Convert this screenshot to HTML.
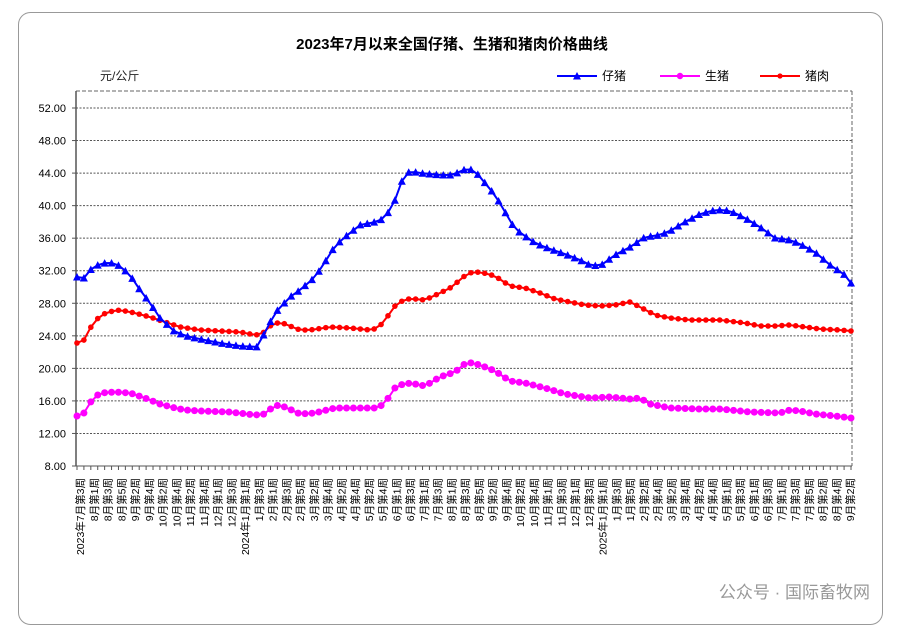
<!DOCTYPE html>
<html><head><meta charset="utf-8"><style>
body{margin:0;background:#fff;width:900px;height:627px;overflow:hidden;font-family:"Liberation Sans","Noto Sans CJK SC",sans-serif}
</style></head><body>
<svg id="s" width="900" height="627" xmlns="http://www.w3.org/2000/svg" font-family="Liberation Sans, Noto Sans CJK SC, sans-serif">
<rect x="18.5" y="12.5" width="864" height="612" rx="12" fill="#fff" stroke="#999" stroke-width="1"/>
<text x="452" y="49" text-anchor="middle" font-size="15" font-weight="bold" fill="#000">2023年7月以来全国仔猪、生猪和猪肉价格曲线</text>
<text x="100" y="80" font-size="12" fill="#222">元/公斤</text>
<g id="leg"></g>
<g id="grid"></g>
<g id="ser"></g>
<g id="xl"></g>
<text x="870" y="598" text-anchor="end" font-size="17" fill="#999">公众号 · 国际畜牧网</text>
</svg>
<script>
var NS="http://www.w3.org/2000/svg",s=document.getElementById('s');
function el(p,t,a,txt){var e=document.createElementNS(NS,t);for(var k in a)e.setAttribute(k,a[k]);if(txt)e.textContent=txt;document.getElementById(p).appendChild(e);return e;}
var L=76,R=852,T=91,B=466;
function Y(v){return 466-(v-8)*358/44;}
for(var v=12;v<=52;v+=4){el('grid','line',{x1:L,x2:R,y1:Y(v),y2:Y(v),stroke:'#555','stroke-dasharray':'2,1.5','stroke-width':1});}
for(var v=8;v<=52;v+=4){el('grid','text',{x:66,y:Y(v)+4,'text-anchor':'end','font-size':11,fill:'#000'},v.toFixed(2));el('grid','line',{x1:L-4,x2:L,y1:Y(v),y2:Y(v),stroke:'#555'});}
el('grid','line',{x1:L,x2:R,y1:T,y2:T,stroke:'#666','stroke-dasharray':'4,2'});
el('grid','line',{x1:R,x2:R,y1:T,y2:B,stroke:'#666','stroke-dasharray':'4,2'});
el('grid','line',{x1:L,x2:L,y1:T,y2:B,stroke:'#555','stroke-width':1.5});
el('grid','line',{x1:L,x2:R,y1:B,y2:B,stroke:'#555'});
var N=113,dx=774/112;
for(var i=0;i<N;i++){var x=77+i*dx;el('grid','line',{x1:x,x2:x,y1:B,y2:B+4,stroke:'#555'});}
var labs=["2023年7月第3周","8月第1周","8月第3周","8月第5周","9月第2周","9月第4周","10月第2周","10月第4周","11月第2周","11月第4周","12月第1周","12月第3周","2024年1月第1周","1月第3周","2月第1周","2月第3周","2月第5周","3月第2周","3月第4周","4月第2周","4月第4周","5月第2周","5月第4周","6月第1周","6月第3周","7月第1周","7月第3周","8月第1周","8月第3周","8月第5周","9月第2周","9月第4周","10月第2周","10月第4周","11月第1周","11月第3周","12月第1周","12月第3周","2025年1月第1周","1月第3周","1月第5周","2月第2周","2月第4周","3月第2周","3月第4周","4月第2周","4月第4周","5月第1周","5月第3周","6月第1周","6月第3周","7月第1周","7月第3周","7月第5周","8月第2周","8月第4周","9月第2周"];
labs.forEach(function(t,j){var x=80+j*(770/56);el('xl','text',{transform:'translate('+(x+4)+',478) rotate(-90)','text-anchor':'end','font-size':10.5,fill:'#000'},t);});
function interp(k){var out=[];for(var i=0;i<N;i++){var x=77+i*dx,y=k[k.length-1][1];for(var j=0;j<k.length-1;j++){if(x>=k[j][0]&&x<=k[j+1][0]){var f=(x-k[j][0])/(k[j+1][0]-k[j][0]);y=k[j][1]+f*(k[j+1][1]-k[j][1]);break;}}out.push([x,y]);}return out;}
var blue=[[77,277],[84,278],[90,270],[98,265],[105,263],[112,263],[120,266],[130,275],[140,290],[150,303],[160,318],[175,332],[190,337],[205,340],[220,343],[240,346],[258,347],[265,332],[275,313],[290,297],[300,290],[315,277],[325,262],[335,246],[345,237],[360,225],[375,222],[385,218],[395,200],[403,178],[410,171],[420,173],[440,175],[450,175],[460,172],[467,168],[475,171],[485,183],[495,195],[505,212],[515,229],[525,236],[535,243],[550,249],[565,254],[580,260],[590,265],[600,266],[615,255],[630,247],[645,237],[660,235],[670,231],[685,222],[700,214],[715,210],[725,210],[735,213],[745,218],[760,227],[775,238],[790,240],[800,244],[815,252],[830,265],[845,275],[851,283]];
var red=[[77,343],[84,340],[92,325],[100,316],[108,312],[120,310],[135,313],[150,317],[165,322],[180,327],[200,330],[220,331],[240,332],[255,335],[262,334],[270,326],[280,322],[290,326],[300,330],[310,330],[330,327],[350,328],[370,330],[378,328],[385,320],[395,306],[405,299],[415,299],[425,300],[440,293],[450,288],[460,280],[468,273],[480,272],[495,276],[510,286],[525,288],[540,293],[555,299],[570,302],[585,305],[600,306],[615,305],[630,302],[640,307],[655,315],[670,318],[690,320],[720,320],[745,323],[760,326],[775,326],[790,325],[805,327],[820,329],[840,330],[851,331]];
var mag=[[77,416],[84,413],[92,400],[100,393],[115,392],[130,393],[145,398],[160,404],[175,408],[185,410],[200,411],[230,412],[255,415],[265,414],[275,405],[285,407],[300,414],[315,413],[335,408],[360,408],[375,408],[385,404],[393,389],[405,383],[415,384],[425,386],[440,377],[455,372],[467,362],[480,365],[495,371],[510,381],[525,383],[545,388],[565,394],[590,398],[610,397],[630,399],[640,398],[650,404],[670,408],[700,409],[720,409],[750,412],[780,413],[790,410],[800,411],[815,414],[835,416],[851,418]];
function tri(x,y,c,g){el(g,'polygon',{points:(x-4)+','+(y+3.5)+' '+(x+4)+','+(y+3.5)+' '+x+','+(y-4),fill:c});}
function dot(x,y,c,g,r){el(g,'circle',{cx:x,cy:y,r:r,fill:c});}
function draw(k,c,m,r){var p=interp(k);el('ser','polyline',{points:p.map(function(q){return q[0].toFixed(1)+','+q[1].toFixed(1)}).join(' '),fill:'none',stroke:c,'stroke-width':2});p.forEach(function(q){if(m=='t')tri(q[0],q[1],c,'ser');else dot(q[0],q[1],c,'ser',r);});}
draw(mag,'#ff00ff','c',3.5);
draw(red,'#ff0000','c',2.8);
draw(blue,'#0000ff','t');
function lg(x,c,m,t){el('leg','line',{x1:x,x2:x+40,y1:76,y2:76,stroke:c,'stroke-width':2});if(m=='t')tri(x+20,76,c,'leg');else dot(x+20,76,c,'leg',m=='m'?3.2:2.6);el('leg','text',{x:x+45,y:80,'font-size':12,fill:'#000'},t);}
lg(557,'#0000ff','t','仔猪');lg(660,'#ff00ff','m','生猪');lg(760,'#ff0000','r','猪肉');
</script>
</body></html>
